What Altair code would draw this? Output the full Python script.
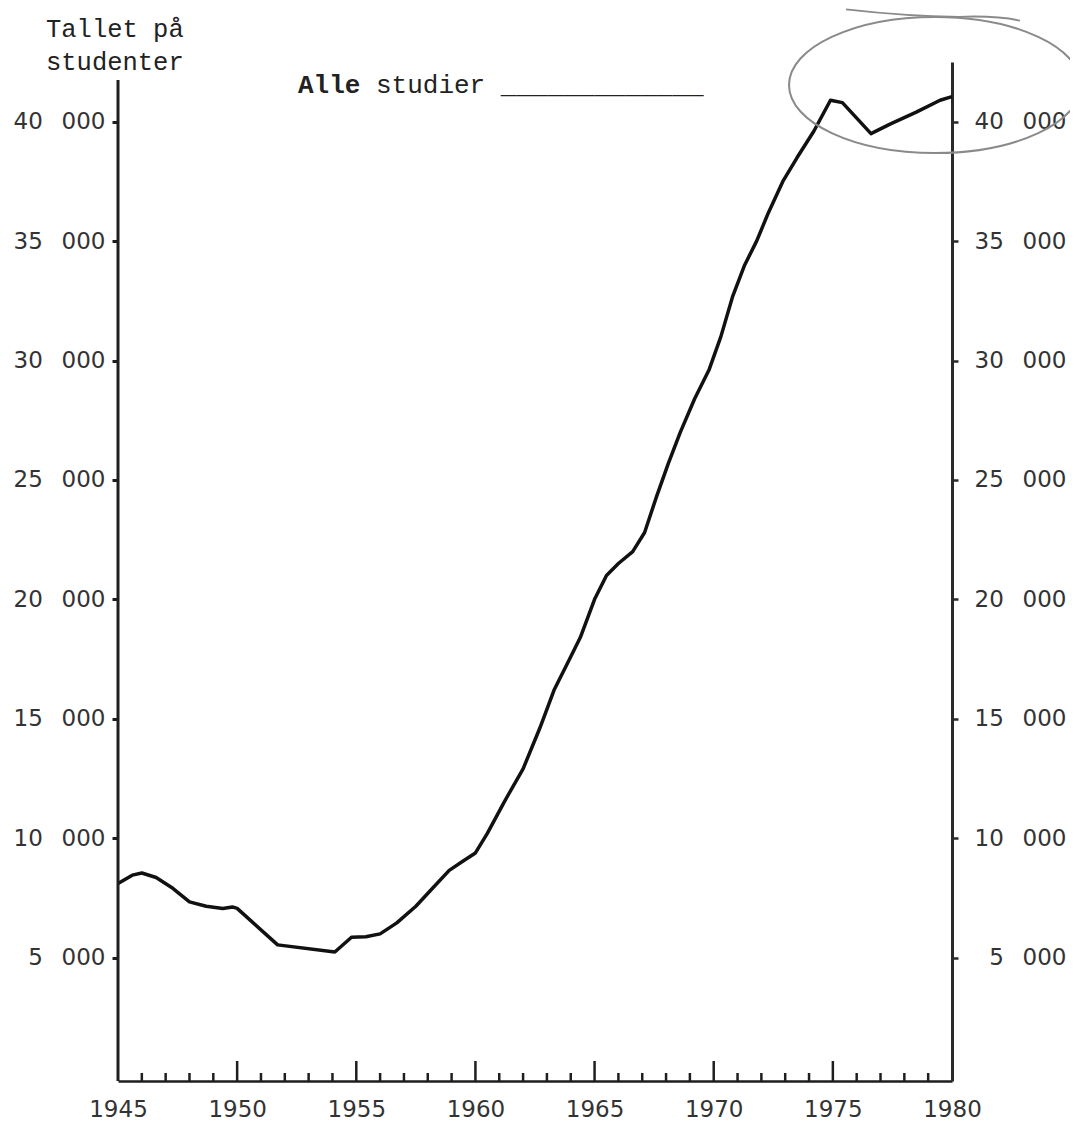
import altair as alt
import pandas as pd

# ---- data ----
years = [1945.0, 1945.6, 1946.0, 1946.6, 1947.3, 1948.0, 1948.7, 1949.4, 1949.8, 1950.0,
         1951.7, 1954.1, 1954.8, 1955.4, 1956.0, 1956.7, 1957.5, 1958.2, 1958.9, 1959.5,
         1960.0, 1960.5, 1961.2, 1962.0, 1962.7, 1963.3, 1963.9, 1964.4, 1965.0, 1965.5,
         1966.0, 1966.6, 1967.1, 1967.6, 1968.1, 1968.6, 1969.2, 1969.8, 1970.3, 1970.8,
         1971.3, 1971.8, 1972.3, 1972.9, 1973.5, 1974.2, 1974.9, 1975.4, 1976.6, 1977.4,
         1978.5, 1979.5, 1980.0]
students = [8100, 8450, 8540, 8350, 7900, 7330, 7150, 7050, 7120, 7060,
            5530, 5230, 5850, 5870, 5990, 6450, 7150, 7900, 8650, 9050,
            9380, 10200, 11500, 12900, 14600, 16200, 17400, 18400, 20000, 21000,
            21500, 22000, 22800, 24300, 25700, 27000, 28400, 29600, 31000, 32700,
            34000, 35000, 36200, 37500, 38500, 39600, 40900, 40800, 39500, 39900,
            40400, 40900, 41050]

y_ticks = [5000, 10000, 15000, 20000, 25000, 30000, 35000, 40000]
x_labels = [1945, 1950, 1955, 1960, 1965, 1970, 1975, 1980]
major_ticks = [1950, 1955, 1960, 1965, 1970, 1975]
minor_ticks = [1946, 1947, 1948, 1949, 1951, 1952, 1953, 1954, 1956, 1957, 1958, 1959,
               1961, 1962, 1963, 1964, 1966, 1967, 1968, 1969, 1971, 1972, 1973, 1974,
               1976, 1977, 1978, 1979]
y_title_lines = ["Tallet på", "studenter"]
series_bold = ["Alle"]
series_rest = ["studier _____________"]

# ---- layout ----
W, H = 834, 1019
X_DOMAIN = [1945, 1980]
Y_DOMAIN = [-170, 42500]
LABEL_FONT = "DejaVu Sans"
MONO = "Liberation Mono"
INK = "#1e1e1e"
LBL = "#333333"

df = pd.DataFrame({"year": years, "students": students})
xs = alt.Scale(domain=X_DOMAIN, nice=False, zero=False)
ys = alt.Scale(domain=Y_DOMAIN, nice=False, zero=False)
label_expr = "replace(format(datum.value, ','), ',', '\u2002 ')"

x_axis = alt.Axis(
    values=x_labels, format="d", title=None, ticks=False, tickSize=0, grid=False,
    domainColor=INK, domainWidth=2.5, labelFont=LABEL_FONT, labelFontSize=23,
    labelColor=LBL, labelPadding=17, labelFlush=False)

one = pd.DataFrame({"k": [0]})

line = alt.Chart(df).mark_line(color="#111111", strokeWidth=3.5, strokeJoin="round").encode(
    x=alt.X("year:Q", scale=xs, axis=x_axis),
    y=alt.Y("students:Q", scale=ys, axis=alt.Axis(
        orient="left", values=y_ticks, labelExpr=label_expr, title=None, grid=False,
        domain=False, tickSize=6, tickWidth=3, tickColor=INK, labelPadding=7,
        labelFont=LABEL_FONT, labelFontSize=23, labelColor=LBL, labelFlush=False)),
)

right = alt.Chart(df).mark_line(opacity=0).encode(
    x=alt.X("year:Q", scale=xs, axis=x_axis),
    y=alt.Y("students:Q", scale=ys, axis=alt.Axis(
        orient="right", values=y_ticks, labelExpr=label_expr, title=None, grid=False,
        domainColor="#2a2a2a", domainWidth=3, tickSize=6, tickWidth=2.5, tickColor="#2a2a2a",
        labelAlign="right", labelPadding=108, labelFont=LABEL_FONT, labelFontSize=23,
        labelColor=LBL, labelFlush=False)),
)

left_rule = alt.Chart(one).mark_rule(color=INK, strokeWidth=3).encode(
    x=alt.value(0), y=alt.value(18), y2=alt.value(H)
)

major = alt.Chart(pd.DataFrame({"year": major_ticks})).mark_rule(color=INK, strokeWidth=2.5).encode(
    x=alt.X("year:Q", scale=xs, axis=x_axis), y=alt.value(H), y2=alt.value(H - 20)
)
minor = alt.Chart(pd.DataFrame({"year": minor_ticks})).mark_rule(color=INK, strokeWidth=2.5).encode(
    x=alt.X("year:Q", scale=xs, axis=x_axis), y=alt.value(H), y2=alt.value(H - 8)
)


def txt(s, x, y, size, bold=False):
    return alt.Chart(pd.DataFrame({"t": [s]})).mark_text(
        font=MONO, fontSize=size, fontWeight="bold" if bold else "normal",
        align="left", baseline="alphabetic", color="#222222"
    ).encode(x=alt.value(x), y=alt.value(y), text="t:N")


t1 = txt(y_title_lines[0], -72, -25, 25.5)
t2 = txt(y_title_lines[1], -72, 8, 25.5)
t3 = txt(series_bold[0], 180, 31, 26, bold=True)
t4 = txt(series_rest[0], 258, 31, 26)

ELLIPSE = ("M1,0C1,0.2574 0.5523,0.466 0,0.466C-0.5523,0.466 -1,0.2574 -1,0"
           "C-1,-0.2574 -0.5523,-0.466 0,-0.466C0.5523,-0.466 1,-0.2574 1,0Z")
SCRIBBLE = "M-1,-0.03Q-0.3,0.05 0.3,0.055Q0.75,0.04 1,0.1"

ellipse = alt.Chart(one).mark_point(
    shape=ELLIPSE, size=85264, filled=False, color="#8a8a8a", strokeWidth=2, opacity=1
).encode(x=alt.value(817), y=alt.value(23))
scribble = alt.Chart(one).mark_point(
    shape=SCRIBBLE, size=30276, filled=False, color="#8a8a8a", strokeWidth=1.8, opacity=1
).encode(x=alt.value(815), y=alt.value(-50))

chart = alt.layer(
    line, right, left_rule, major, minor, t1, t2, t3, t4, ellipse, scribble
).resolve_axis(y="independent").properties(
    width=W, height=H,
    autosize=alt.AutoSizeParams(type="none"),
    padding={"left": 110, "top": 54, "right": 118, "bottom": 44},
).configure(background="white").configure_view(stroke=None)

chart.save("out.html", embed_options={"renderer": "svg", "actions": False})
